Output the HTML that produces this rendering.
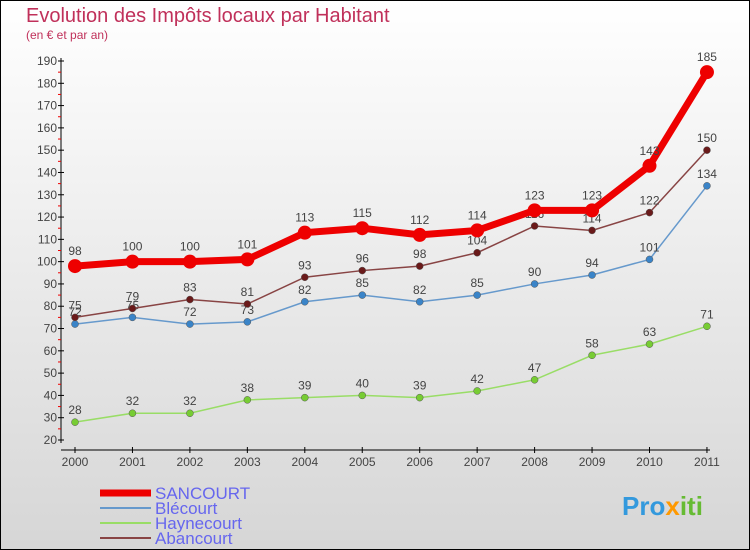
<!DOCTYPE html>
<html><head><meta charset="utf-8"><style>
body{margin:0}
#c{width:750px;height:550px;position:relative;box-sizing:border-box;border:1px solid #000;background:linear-gradient(#ffffff,#d6d6d6);font-family:"Liberation Sans",sans-serif;overflow:hidden}
</style></head><body>
<div id="c">
<svg width="750" height="550" id="svg" style="position:absolute;left:-1px;top:-1px">
<text x="26" y="22" font-size="20" fill="#c0305a">Evolution des Impôts locaux par Habitant</text>
<text x="26" y="39" font-size="12" fill="#c0305a">(en € et par an)</text>
<g id="axes"></g><g id="series"></g>
<text x="622" y="515" font-size="26" font-weight="bold" fill="#3399dd">Pro<tspan fill="#ff9900">x</tspan><tspan fill="#66bb33">iti</tspan></text>
<g id="legend"></g>
</svg>
</div>
<script>
const years=[2000,2001,2002,2003,2004,2005,2006,2007,2008,2009,2010,2011];
const yTicks=[20,30,40,50,60,70,80,90,100,110,120,130,140,150,160,170,180,190];
const sancourt=[98,100,100,101,113,115,112,114,123,123,143,185];
const blecourt=[72,75,72,73,82,85,82,85,90,94,101,134];
const haynecourt=[28,32,32,38,39,40,39,42,47,58,63,71];
const abancourt=[75,79,83,81,93,96,98,104,116,114,122,150];
const NS="http://www.w3.org/2000/svg";
const X=i=>75+i*57.45, Y=v=>440-(v-20)*(379/170);
function mk(t,a,p){const e=document.createElementNS(NS,t);for(const k in a)e.setAttribute(k,a[k]);p.appendChild(e);return e;}
const ax=document.getElementById('axes');
let l=mk('line',{x1:61,y1:58,x2:61,y2:443,stroke:'#000'},ax);

l=mk('line',{x1:61,y1:450,x2:710,y2:450,stroke:'#000'},ax);

yTicks.forEach(v=>{mk('line',{x1:58,x2:64,y1:Y(v),y2:Y(v),stroke:'#000'},ax);
 if(v<190)mk('line',{x1:58,x2:61,y1:Y(v+5),y2:Y(v+5),stroke:'#e00'},ax);
 const t=mk('text',{x:57,y:Y(v)+4,'text-anchor':'end','font-size':12,fill:'#444'},ax);t.textContent=v;
 });
years.forEach((y,i)=>{mk('line',{x1:X(i),x2:X(i),y1:447,y2:453,stroke:'#000'},ax);
 const t=mk('text',{x:X(i),y:466,'text-anchor':'middle','font-size':12,fill:'#444'},ax);t.textContent=y;
 });
const S=[[blecourt,'#6699cc','#3a84c8',1.5,3.5,'blecourt'],[haynecourt,'#99dd66','#77cc33',1.5,3.5,'haynecourt'],[abancourt,'#884444','#6a1a1a',1.5,3.5,'abancourt'],[sancourt,'#ee0000','#ee0000',7,7,'sancourt']];
const sg=document.getElementById('series');
S.forEach(([d,c,pc,w,r,n])=>{const g=mk('g',{},sg);
 
 mk('polyline',{points:d.map((v,i)=>X(i)+','+Y(v)).join(' '),fill:'none',stroke:c,'stroke-width':w},g);
 d.forEach((v,i)=>{const p=mk('circle',{cx:X(i),cy:Y(v),r:r,fill:pc,stroke:r>4?'none':'#555','stroke-width':0.5},g);
  
  const t=mk('text',{x:X(i),y:Y(v)-(r>4?11:8),'text-anchor':'middle','font-size':12,fill:'#444'},g);t.textContent=v;
  });});
const lg=document.getElementById('legend');
[['SANCOURT','#ee0000',7],['Blécourt','#6699cc',2],['Haynecourt','#99dd66',2],['Abancourt','#884444',2]].forEach(([n,c,w],i)=>{
 const y=493+i*15;const g=mk('g',{},lg);
 
 mk('line',{x1:100,x2:151,y1:y,y2:y,stroke:c,'stroke-width':w},g);
 const t=mk('text',{x:155,y:y+6,'font-size':17,fill:'#6666ee'},g);t.textContent=n;});
</script>
</body></html>
